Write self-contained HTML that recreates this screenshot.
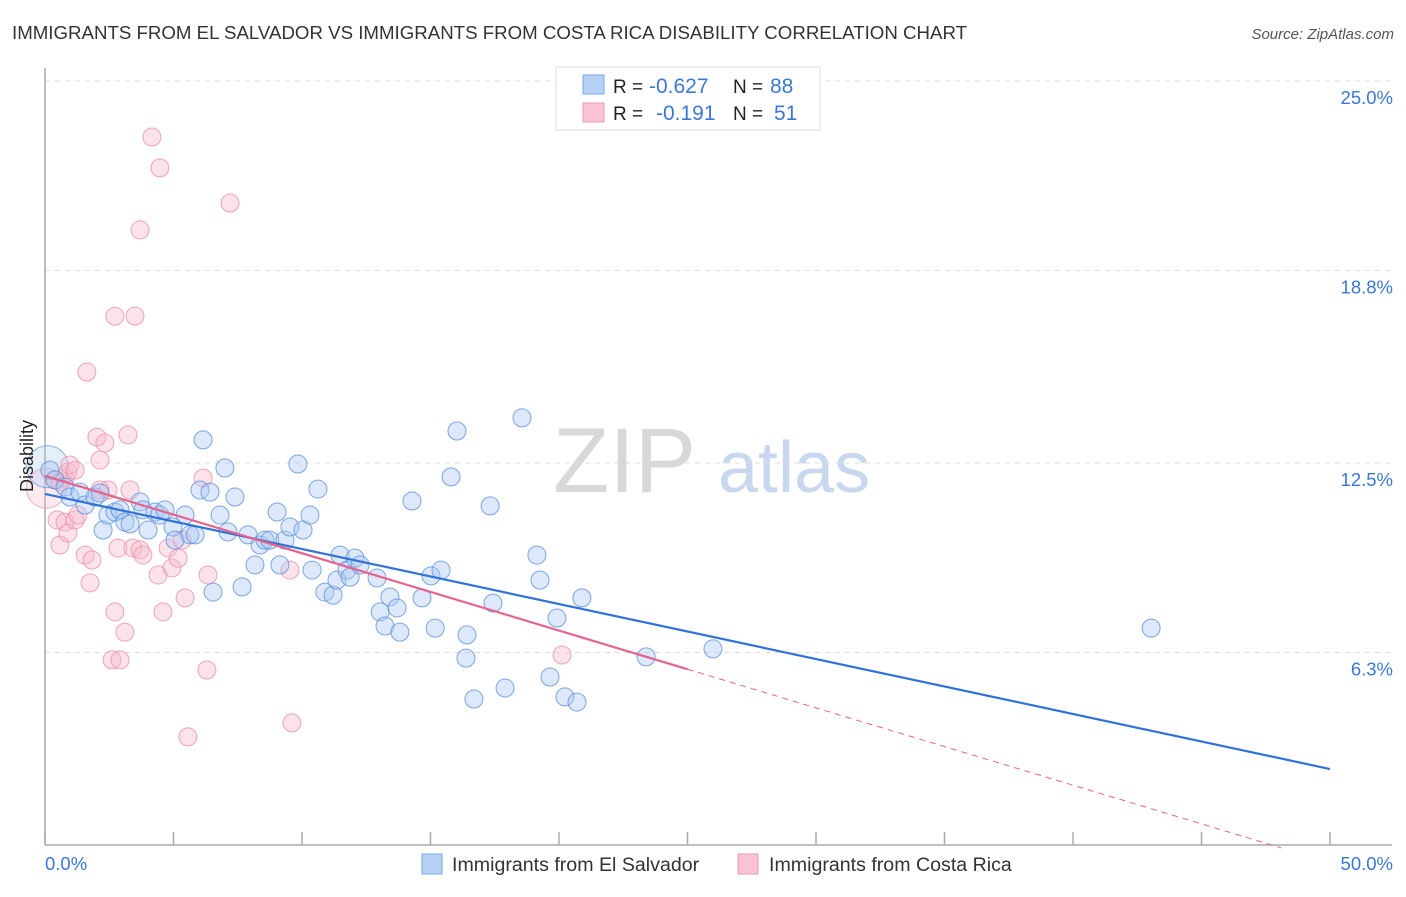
<!DOCTYPE html>
<html><head><meta charset="utf-8"><style>
body{margin:0;background:#fff;font-family:"Liberation Sans",sans-serif;}
svg text{font-family:"Liberation Sans",sans-serif;}
</style></head><body>
<svg id="c" width="1406" height="892" viewBox="0 0 1406 892">
<text x="12" y="39" font-size="18" fill="#333" textLength="955" lengthAdjust="spacingAndGlyphs">IMMIGRANTS FROM EL SALVADOR VS IMMIGRANTS FROM COSTA RICA DISABILITY CORRELATION CHART</text>
<text x="1394" y="39" font-size="15" fill="#555" font-style="italic" text-anchor="end">Source: ZipAtlas.com</text>
<g>
<text x="553" y="492" font-size="92" fill="#d8d8d8" font-family="Liberation Serif">ZIP</text>
<text x="718" y="492" font-size="72" fill="#c7d8ee">atlas</text>
</g>
<g id="grid"></g>
<g id="axes"></g>
<g id="marks"></g>
<text transform="translate(33,456) rotate(-90)" font-size="18" fill="#222" text-anchor="middle">Disability</text>
<g>
<rect x="556" y="67" width="264" height="63" fill="#fff" stroke="#ddd"/>
<rect x="583" y="75" width="21" height="19" fill="#b7d1f5" stroke="#7aa6e6"/>
<rect x="583" y="103" width="21" height="19" fill="#f9c5d4" stroke="#ea9ab3"/>
<text x="613" y="93" font-size="19" fill="#222">R = <tspan x="649" font-size="21" fill="#3a78d6">-0.627</tspan><tspan x="733">N = </tspan><tspan x="770" font-size="21" fill="#3a78d6">88</tspan></text>
<text x="613" y="120" font-size="19" fill="#222">R = <tspan x="656" font-size="21" fill="#3a78d6">-0.191</tspan><tspan x="733">N = </tspan><tspan x="774" font-size="21" fill="#3a78d6">51</tspan></text>
</g>
<g>
<rect x="422" y="854" width="20" height="20" fill="#b7d1f5" stroke="#7aa6e6"/>
<text x="452" y="871" font-size="19.6" fill="#333">Immigrants from El Salvador</text>
<rect x="738" y="854" width="20" height="20" fill="#f9c5d4" stroke="#ea9ab3"/>
<text x="769" y="871" font-size="19.6" fill="#333">Immigrants from Costa Rica</text>
</g>
</svg>
<script>
const yTicks=[25.0,18.8,12.5,6.3];
const yTickLabels=["25.0%","18.8%","12.5%","6.3%"];
const xTickCount=10;
const xMin=0,xMax=50;
const blueX=[0.19,0.39,0.78,0.97,1.36,1.56,1.95,2.14,2.26,2.45,2.72,2.92,3.11,3.31,3.70,3.81,4.01,4.28,4.47,4.67,4.98,5.06,5.45,5.64,5.84,6.15,6.03,6.42,6.54,6.81,7.00,7.12,7.39,7.67,7.90,8.17,8.37,8.56,8.75,9.03,9.14,9.34,9.53,9.84,10.04,10.31,10.39,10.62,10.89,11.21,11.36,11.48,11.75,11.87,12.06,12.26,12.92,13.04,13.23,13.42,13.70,13.81,14.28,14.67,15.02,15.18,15.41,15.80,16.03,16.38,16.42,16.69,17.32,17.43,17.90,18.56,19.14,19.26,19.65,19.92,20.23,20.70,20.89,23.39,25.99,43.04];
const blueY=[12.79,12.47,12.24,11.91,12.07,11.65,11.91,12.04,10.83,11.32,11.42,11.49,11.09,11.03,11.75,11.49,10.83,11.42,11.32,11.49,10.93,10.50,11.32,10.67,10.67,13.78,12.14,12.07,8.80,11.32,12.86,10.77,11.91,8.97,10.67,9.69,10.34,10.50,10.50,11.42,9.69,10.50,10.93,12.99,10.83,11.32,9.52,12.17,8.80,8.70,9.19,10.01,9.52,9.29,9.91,9.69,9.26,8.15,7.69,8.64,8.28,7.49,11.78,8.61,9.33,7.62,9.52,12.57,14.07,6.64,7.40,5.30,11.62,8.44,5.66,14.50,10.01,9.19,6.02,7.95,5.37,5.20,8.61,6.68,6.94,7.62];
const pinkX=[0.39,0.58,0.78,0.89,0.97,1.17,0.47,0.58,0.78,0.89,1.17,1.28,1.56,1.75,1.83,2.02,2.14,2.33,2.45,2.61,2.72,2.84,2.92,3.11,3.23,3.31,3.42,3.70,3.81,4.16,4.40,4.47,4.59,4.79,4.94,5.18,5.33,5.45,5.56,6.15,6.30,6.34,7.20,9.53,9.61,3.70,2.72,3.50,1.63,20.12,2.14];
const pinkY=[12.47,12.40,12.53,12.73,12.96,12.79,11.16,10.34,11.09,10.73,11.16,11.32,10.01,9.10,9.85,13.87,13.12,13.68,12.14,6.58,8.15,10.24,6.58,7.49,13.94,12.14,10.24,10.18,10.01,23.69,9.36,22.68,8.15,10.24,9.59,9.91,10.50,8.61,4.06,12.53,6.25,9.36,21.53,9.52,4.52,20.65,17.83,17.83,16.00,6.74,12.14];
const bigBlue=[0.1,12.9];
const bigPink=[0.05,12.2];
const blueTrend=[12.01,3.01];
const pinkTrend=[12.60,-0.05];
const pinkSolidEnd=25.0;

const X=v=>45+(v-xMin)/(xMax-xMin)*1285;
const Y=v=>861-v*30.56;
const NS="http://www.w3.org/2000/svg";
function mk(tag,attrs,parent){const e=document.createElementNS(NS,tag);for(const k in attrs)e.setAttribute(k,attrs[k]);parent.appendChild(e);return e;}
const grid=document.getElementById('grid'),axes=document.getElementById('axes'),marks=document.getElementById('marks');
yTicks.forEach((t,i)=>{
  const g=mk('line',{x1:45,x2:1392,y1:Y(t)-16,y2:Y(t)-16,stroke:'#ddd','stroke-dasharray':'5,5'},grid);
  
  
  const l=mk('text',{x:1393,y:Y(t)+7,'font-size':18.5,fill:'#3a78d6','text-anchor':'end'},axes);
  l.textContent=yTickLabels[i];
  
  
});
const ya=mk('line',{x1:45,x2:45,y1:68,y2:845,stroke:'#aaa','stroke-width':1.5},axes);


const xa=mk('line',{x1:45,x2:1392,y1:845,y2:845,stroke:'#aaa','stroke-width':1.5},axes);


for(let i=0;i<=xTickCount;i++){
  const v=xMin+(xMax-xMin)*i/xTickCount;
  const t=mk('line',{x1:X(v),x2:X(v),y1:832,y2:845,stroke:'#aaa','stroke-width':1.5},axes);
  
  
}
const xl0=mk('text',{x:45,y:870,'font-size':18.5,fill:'#3a78d6'},axes);xl0.textContent=xMin.toFixed(1)+'%';


const xl1=mk('text',{x:1393,y:870,'font-size':18.5,fill:'#3a78d6','text-anchor':'end'},axes);xl1.textContent=xMax.toFixed(1)+'%';



function dot(x,y,r,fill,stroke,op,name){
  const c=mk('circle',{cx:X(x),cy:Y(y),r:r,fill:fill,'fill-opacity':op,stroke:stroke,'stroke-opacity':0.8,'stroke-width':1},marks);
  
  
}
dot(bigPink[0],bigPink[1],20,'#f7b8ca','#ea9ab3',0.3,'costa-rica-point');
dot(bigBlue[0],bigBlue[1],21,'#a9c8f2','#6f9fe3',0.3,'el-salvador-point');
pinkX.forEach((x,i)=>dot(x,pinkY[i],9,'#f7b8ca','#ea8fab',0.4,'costa-rica-point'));
blueX.forEach((x,i)=>dot(x,blueY[i],9,'#a9c8f2','#5b91df',0.4,'el-salvador-point'));
const bt=mk('line',{x1:X(xMin),y1:Y(blueTrend[0]),x2:X(xMax),y2:Y(blueTrend[1]),stroke:'#2f72d9','stroke-width':2.2},marks);


const pv=x=>pinkTrend[0]+(pinkTrend[1]-pinkTrend[0])*(x-xMin)/(xMax-xMin);
const ps=mk('line',{x1:X(xMin),y1:Y(pv(xMin)),x2:X(pinkSolidEnd),y2:Y(pv(pinkSolidEnd)),stroke:'#e8628e','stroke-width':2.2},marks);


const pd=mk('line',{x1:X(pinkSolidEnd),y1:Y(pv(pinkSolidEnd)),x2:X(48.1),y2:Y(pv(48.1)),stroke:'#e8628e','stroke-width':1,'stroke-dasharray':'6,5'},marks);


</script>
</body></html>
